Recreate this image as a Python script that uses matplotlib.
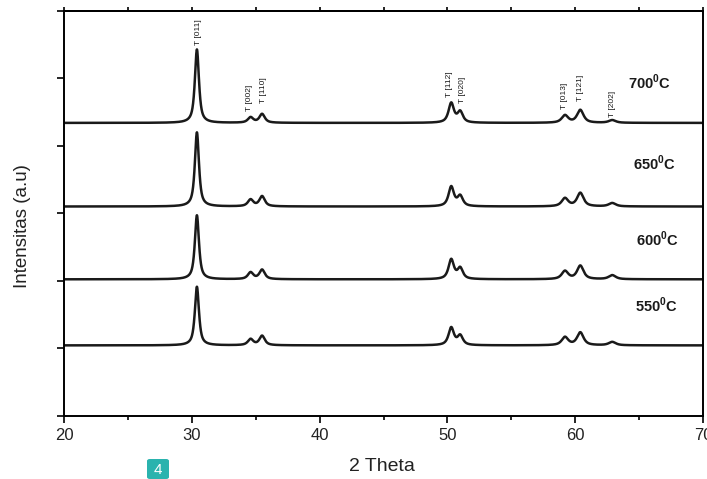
import numpy as np
import matplotlib
matplotlib.use("Agg")
import matplotlib.pyplot as plt
from matplotlib.patches import FancyBboxPatch

plt.rcParams['font.family'] = ['Liberation Sans', 'DejaVu Sans']
plt.rcParams['mathtext.fontset'] = 'custom'
plt.rcParams['mathtext.rm'] = 'Liberation Sans'
plt.rcParams['mathtext.bf'] = 'Liberation Sans:bold'

# ---- data ----
temperatures = ['550', '600', '650', '700']
baselines = [1.04, 2.02, 3.10, 4.34]              # vertical offset of each pattern
peak_pos = [30.4, 34.6, 35.5, 50.3, 51.0, 59.2, 60.4, 62.9]   # 2 theta
peak_fwhm = [0.38, 0.5, 0.5, 0.5, 0.5, 0.6, 0.6, 0.65]
peak_heights = {
    '550': [0.87, 0.09, 0.14, 0.26, 0.14, 0.12, 0.19, 0.05],
    '600': [0.95, 0.10, 0.14, 0.29, 0.16, 0.12, 0.20, 0.06],
    '650': [1.10, 0.10, 0.15, 0.29, 0.15, 0.12, 0.20, 0.05],
    '700': [1.09, 0.08, 0.13, 0.29, 0.16, 0.11, 0.19, 0.04],
}
label_texts = ['T [011]', 'T [002]', 'T [110]', 'T [112]', 'T [020]', 'T [013]', 'T [121]', 'T [202]']
label_x = [30.5, 34.5, 35.6, 50.15, 51.2, 59.2, 60.45, 62.95]
label_y = [5.50, 4.51, 4.64, 4.73, 4.64, 4.54, 4.66, 4.43]
temp_label_x = [64.68, 64.76, 64.5, 64.13]
temp_label_y = [1.63, 2.62, 3.735, 4.94]
xticks = [20, 30, 40, 50, 60, 70]


def profile(x, heights):
    y = np.zeros_like(x)
    for p, w, h in zip(peak_pos, peak_fwhm, heights):
        g = w / 2.0
        lor = 1.0 / (1.0 + ((x - p) / g) ** 2)
        gau = np.exp(-np.log(2) * ((x - p) / g) ** 2)
        y += h * (0.8 * lor + 0.2 * gau)
    return y


fig = plt.figure(figsize=(7.07, 4.79), dpi=100)
ax = fig.add_axes([64 / 707, 1 - 415.5 / 479, (703 - 64) / 707, (415.5 - 11) / 479])

x = np.linspace(20, 70, 3001)
for t, b in zip(temperatures, baselines):
    ax.plot(x, b + profile(x, peak_heights[t]), color='#1a1a1a', lw=1.8)

for t, tx, ty in zip(temperatures, temp_label_x, temp_label_y):
    ax.text(tx, ty, t + r'$^{\mathbf{0}}$C', fontsize=10.5, fontweight='bold',
            ha='left', va='center', color='#1a1a1a')

for s, lx, ly in zip(label_texts, label_x, label_y):
    ax.text(lx, ly, s, rotation=90, fontsize=6, ha='center', va='bottom', color='#1a1a1a')

ax.set_xlim(20, 70)
ax.set_ylim(0, 6)
ax.set_xticks(xticks)
ax.set_xticks(np.arange(25, 70, 10), minor=True)
ax.set_yticks(np.arange(0, 7, 1))
ax.set_yticklabels([])
ax.tick_params(axis='x', which='major', direction='out', length=5, width=1.2,
               labelsize=12, pad=4, top=False, labelcolor='#222222')
ax.tick_params(axis='x', which='minor', direction='out', length=3, width=1.2, top=False)
ax.tick_params(axis='y', direction='out', length=5, width=1.2, right=False)

# top ticks every 5 degrees
sec = ax.secondary_xaxis('top')
sec.set_xticks(np.arange(20, 71, 5))
sec.set_xticklabels([])
sec.tick_params(direction='out', length=3, width=1.2)
sec.spines['top'].set_linewidth(1.4)

for sp in ax.spines.values():
    sp.set_linewidth(1.4)

ax.set_xlabel('2 Theta', fontsize=14, va='center', color='#222222')
ax.xaxis.set_label_coords(0.497, -0.125)
ax.set_ylabel('Intensitas (a.u)', fontsize=13.5, va='center', color='#222222')
ax.yaxis.set_label_coords(-0.065, 0.468)

# small teal badge at bottom
badge = FancyBboxPatch((147 / 707, 0.0), 22 / 707, 20 / 479,
                       boxstyle='round,pad=0,rounding_size=0.004',
                       transform=fig.transFigure, facecolor='#2ab3ae', edgecolor='none')
fig.patches.append(badge)
fig.text(158 / 707, 9 / 479, '4', color='white', fontsize=11, ha='center', va='center')

fig.savefig('out.png', dpi=100)
